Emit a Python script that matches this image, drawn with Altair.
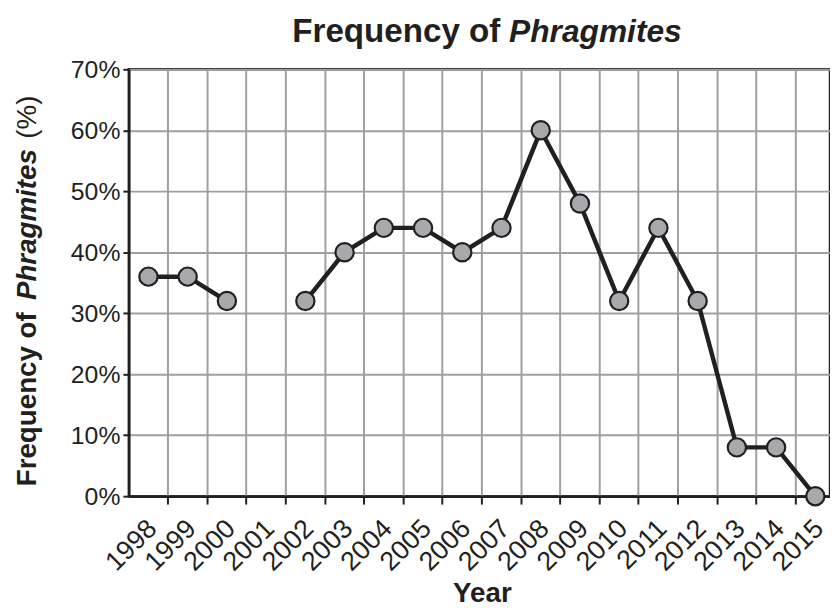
import altair as alt
import pandas as pd

years = ["1998", "1999", "2000", "2001", "2002", "2003", "2004", "2005", "2006",
         "2007", "2008", "2009", "2010", "2011", "2012", "2013", "2014", "2015"]
frequency = [36, 36, 32, None, 32, 40, 44, 44, 40, 44, 60, 48, 32, 44, 32, 8, 8, 0]
y_ticks = [0, 10, 20, 30, 40, 50, 60, 70]

FONT = "Liberation Sans"
DARK = "#231f20"
GRID = "#9d9fa2"

# segment ids so the line breaks where a year has no value
seg, s = [], 0
for v in frequency:
    if v is None:
        s += 1
    seg.append(s)
df = pd.DataFrame({"year": years, "freq": frequency, "seg": seg})
valid = df.dropna()

x_enc = alt.X(
    "year:O",
    scale=alt.Scale(type="band", domain=years, range=[0, 713], paddingInner=0, paddingOuter=0),
    axis=alt.Axis(
        title=None, bandPosition=1, labelAngle=-45, labelFontSize=27, labelFont=FONT,
        labelColor=DARK, labelPadding=11, labelOffset=-5, tickSize=8, tickWidth=2,
        tickColor=DARK, domainColor=DARK, domainWidth=2.5, grid=True, gridColor=GRID,
        gridWidth=2, labelOverlap=False, labelLimit=200,
    ),
)
y_enc = alt.Y(
    "freq:Q",
    scale=alt.Scale(domain=[0, 70], nice=False, zero=True),
    axis=alt.Axis(
        title=None, values=y_ticks, labelExpr="datum.value + '%'", labelFontSize=25,
        labelFont=FONT, labelColor=DARK, labelPadding=3, tickSize=6, tickWidth=2,
        tickColor=DARK, domainColor=DARK, domainWidth=2.5, grid=True, gridColor=GRID,
        gridWidth=2,
    ),
)

line = alt.Chart(valid).mark_line(color=DARK, strokeWidth=4.5).encode(
    x=x_enc, y=y_enc, detail="seg:N"
)
pts = alt.Chart(valid).mark_circle(
    color="#a7a9ac", stroke=DARK, strokeWidth=2.2, size=340, opacity=1
).encode(x=x_enc, y=y_enc)

ann = pd.DataFrame({"k": [0]})


def txt(text, x, y, size, weight="bold", style="normal", angle=0, align="left"):
    return alt.Chart(ann).mark_text(
        text=text, font=FONT, fontSize=size, fontWeight=weight, fontStyle=style,
        angle=angle, align=align, baseline="alphabetic", color=DARK,
    ).encode(x=alt.value(x), y=alt.value(y))


labels = [
    txt("Frequency of", 165, -28, 33.5),
    txt("Phragmites", 384, -28, 32, style="italic"),
    txt("Frequency of", -94, 421, 28, angle=270),
    txt("Phragmites", -94, 233, 28, style="italic", angle=270),
    txt("(%)", -94, 70, 28, weight="normal", angle=270),
    txt("Year", 357, 538, 28, align="center"),
]

chart = alt.layer(line, pts, *labels).properties(
    width=708,
    height=431,
    autosize=alt.AutoSizeParams(type="none"),
    padding={"left": 122, "top": 59, "right": 0, "bottom": 110},
).configure_view(stroke=DARK, strokeWidth=2.5)

chart.save("out.html", embed_options={"renderer": "svg", "actions": False})
